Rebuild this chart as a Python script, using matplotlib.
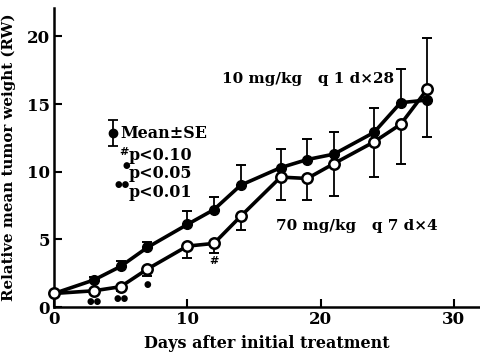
import numpy as np
import matplotlib
matplotlib.use("Agg")
import matplotlib.pyplot as plt

# ---- data ----
days = [0, 3, 5, 7, 10, 12, 14, 17, 19, 21, 24, 26, 28]
rw_10mg = [1.0, 2.0, 3.0, 4.4, 6.1, 7.2, 9.0, 10.3, 10.9, 11.3, 12.9, 15.1, 15.3]
se_10mg_up = [0, 0.2, 0.4, 0.4, 1.0, 0.9, 1.5, 1.4, 1.5, 1.6, 1.8, 2.5, 0]
se_10mg_lo = [0] * 12 + [2.7]

rw_70mg = [1.0, 1.2, 1.5, 2.8, 4.5, 4.7, 6.7, 9.6, 9.5, 10.6, 12.2, 13.5, 16.1]
se_70mg_lo = [0, 0.2, 0.3, 0.5, 0.9, 0.7, 1.0, 1.7, 1.6, 2.4, 2.6, 2.9, 0]
se_70mg_up = [0] * 12 + [3.8]

sig_days = [3, 5, 7, 12]
sig_marks = ["●●", "●●", "●", "#"]

label_10mg = "10 mg/kg   q 1 d×28"
label_70mg = "70 mg/kg   q 7 d×4"
legend_lines = [("#", "p<0.10"), ("●", "p<0.05"), ("●●", "p<0.01")]

xticks = [0, 10, 20, 30]
yticks = [0, 5, 10, 15, 20]

plt.rcParams['font.family'] = ['DejaVu Serif']
plt.rcParams['font.weight'] = 'bold'

fig = plt.figure(figsize=(4.8, 3.56), dpi=100)
ax = fig.add_axes([54 / 480, 1 - 307 / 356, (480.6 - 54) / 480, (307 - 8) / 356])


def draw_err(x, y, lo, hi):
    # draw only the bars that exist (non-zero side)
    for xi, yi, l, h in zip(x, y, lo, hi):
        for a, b in ((yi - l, yi), (yi, yi + h)):
            if b - a > 0:
                ax.vlines(xi, a, b, color='black', lw=1.3, zorder=2)
                end = a if a < yi else b
                ax.plot([xi], [end], marker='_', ms=7, mew=1.4, color='black', zorder=2)


ax.plot(days, rw_10mg, color='black', lw=2.6, marker='o', ms=7,
        mfc='black', mec='black', zorder=3, clip_on=False)
draw_err(days, rw_10mg, se_10mg_lo, se_10mg_up)

ax.plot(days, rw_70mg, color='black', lw=2.6, marker='o', ms=7.5,
        mfc='white', mec='black', mew=1.8, zorder=4, clip_on=False)
draw_err(days, rw_70mg, se_70mg_lo, se_70mg_up)


def mark_size(m):
    return 8 if m == "#" else 6.3


for d, m in zip(sig_days, sig_marks):
    i = days.index(d)
    ax.text(d, rw_70mg[i] - se_70mg_lo[i] - 0.6, m, ha='center', va='center',
            fontsize=mark_size(m), fontweight='bold', family='DejaVu Sans')

ax.set_xlim(0, 32)
ax.set_ylim(0, 22.1)
ax.set_xticks(xticks)
ax.set_yticks(yticks)
for s in ['top', 'right']:
    ax.spines[s].set_visible(False)
for s in ['left', 'bottom']:
    ax.spines[s].set_linewidth(1.8)
ax.tick_params(direction='in', length=6, width=1.5, labelsize=12, pad=3)

ax.set_xlabel("Days after initial treatment", fontsize=11.5, fontweight='bold', labelpad=5)
ax.set_ylabel("Relative mean tumor weight (RW)", fontsize=10.8, fontweight='bold', labelpad=8)


def af(px, py):
    return ((px - 54) / 426.6, (307 - py) / 299)


ax.text(*af(222, 79), label_10mg, transform=ax.transAxes, ha='left', va='center', fontsize=11)
ax.text(*af(276, 226), label_70mg, transform=ax.transAxes, ha='left', va='center', fontsize=11)

# legend
lx, ly = af(113, 133)
ax.errorbar([lx], [ly], yerr=[[0.043], [0.043]], fmt='o', color='black', ms=6,
            elinewidth=1.3, capsize=3.5, capthick=1.3, transform=ax.transAxes, clip_on=False)
ax.text(*af(120, 133), "Mean±SE", transform=ax.transAxes, ha='left', va='center', fontsize=11.5)
for (sym, txt), py, sx in zip(legend_lines, [155, 173, 192], [129, 130, 130]):
    ax.text(*af(sx, py - (3 if sym == "#" else 8)), sym, transform=ax.transAxes, ha='right',
            va='center', fontsize=mark_size(sym), family='DejaVu Sans')
    ax.text(*af(129, py), txt, transform=ax.transAxes, ha='left', va='center', fontsize=11.5)

fig.savefig("out.png", dpi=100)
